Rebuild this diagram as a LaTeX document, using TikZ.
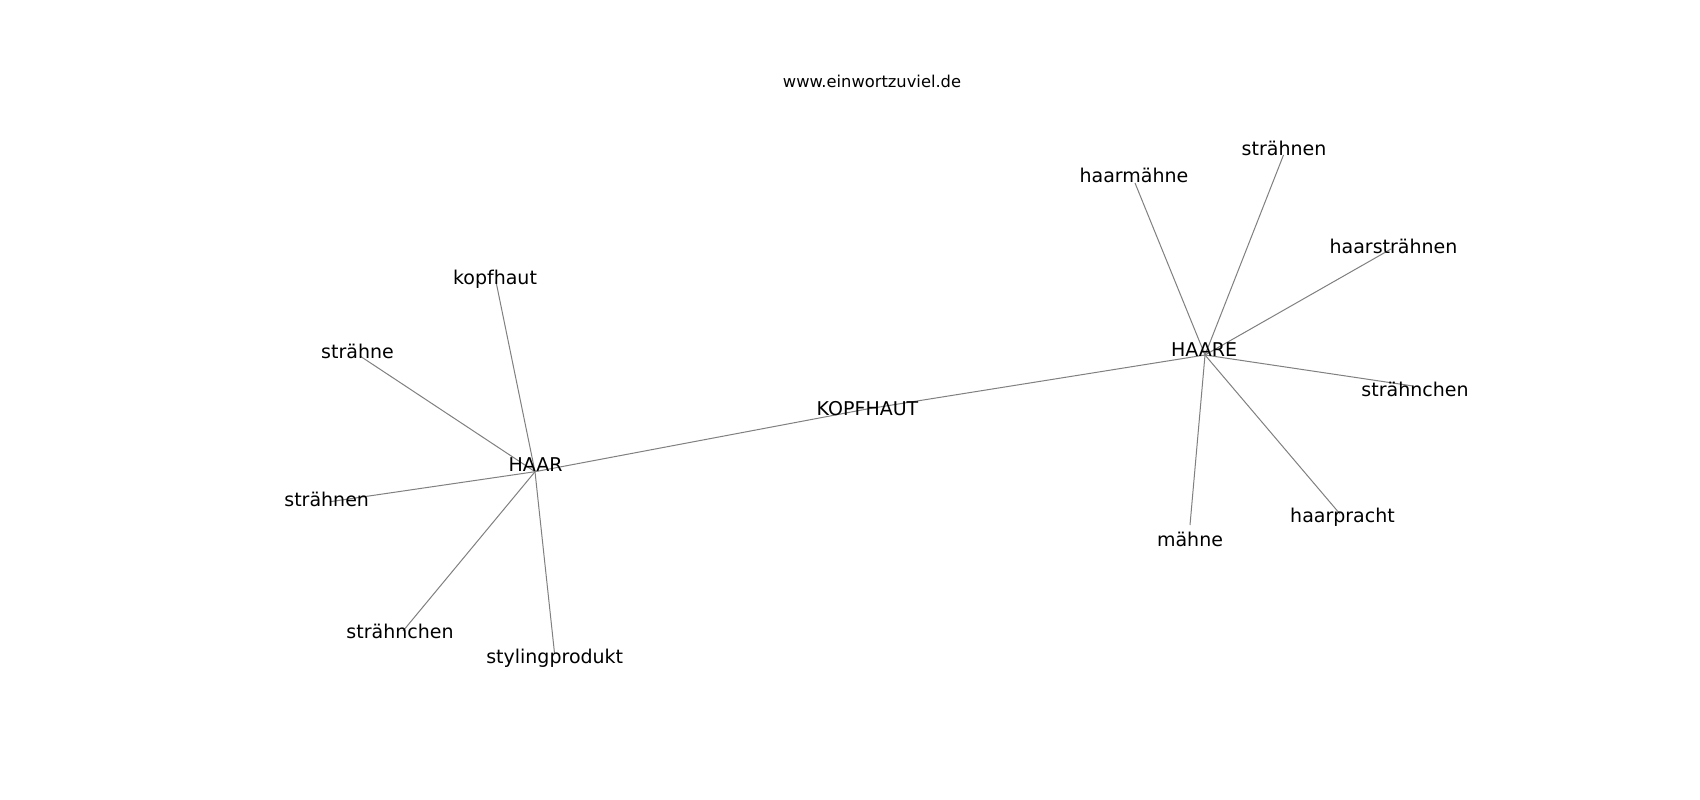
\documentclass[tikz,border=0pt]{standalone}
\usepackage{fontspec}
\setmainfont{DejaVu Sans}
\usetikzlibrary{backgrounds}
\tikzset{
  lbl/.style={anchor=base, inner sep=0pt, font=\fontsize{19}{23}\selectfont, text=black},
  ttl/.style={anchor=base, inner sep=0pt, font=\fontsize{16.3}{20}\selectfont, text=black},
  edge/.style={draw=gray, line width=1pt}
}
\begin{document}
\begin{tikzpicture}[x=1pt,y=-1pt]
\useasboundingbox (0,0) rectangle (1700,800);
% vertices
\coordinate (vhaar) at (535,471.7);
\coordinate (vkopf) at (867,409);
\coordinate (vhaare) at (1205,355);
\coordinate (vkopfhaut) at (496,281.7);
\coordinate (vstraehne) at (360,356);
\coordinate (vstraehnenL) at (330,501.7);
\coordinate (vstraehnchenL) at (403,631);
\coordinate (vstyling) at (554.5,653);
\coordinate (vhaarmaehne) at (1135,183);
\coordinate (vstraehnenR) at (1283.5,155);
\coordinate (vhaarstraehnen) at (1391,249);
\coordinate (vstraehnchenR) at (1413,386);
\coordinate (vhaarpracht) at (1340,514);
\coordinate (vmaehne) at (1190,525);
% labels
\node[ttl] (title) at (872,87.3) {www.einwortzuviel.de};
\node[lbl] (haar) at (535.7,471.7) {HAAR};
\node[lbl] (kopf) at (867.5,415) {KOPFHAUT};
\node[lbl] (haare) at (1204,356.7) {HAARE};
\node[lbl] (kopfhaut) at (495,284) {kopfhaut};
\node[lbl] (straehne) at (357.5,358) {strähne};
\node[lbl] (straehnenL) at (326.7,506.7) {strähnen};
\node[lbl] (straehnchenL) at (400,638) {strähnchen};
\node[lbl] (styling) at (554.7,663) {stylingprodukt};
\node[lbl] (haarmaehne) at (1134,182) {haarmähne};
\node[lbl] (straehnenR) at (1284,155) {strähnen};
\node[lbl] (haarstraehnen) at (1393.5,253) {haarsträhnen};
\node[lbl] (straehnchenR) at (1415,396) {strähnchen};
\node[lbl] (haarpracht) at (1342.5,522.7) {haarpracht};
\node[lbl] (maehne) at (1190,546) {mähne};
% edges
\begin{scope}[on background layer]
\fill[white] (0,0) rectangle (1700,800);
\draw[edge] (vhaar) -- (vkopf);
\draw[edge] (vkopf) -- (vhaare);
\draw[edge] (vhaar) -- (vkopfhaut);
\draw[edge] (vhaar) -- (vstraehne);
\draw[edge] (vhaar) -- (vstraehnenL);
\draw[edge] (vhaar) -- (vstraehnchenL);
\draw[edge] (vhaar) -- (vstyling);
\draw[edge] (vhaare) -- (vhaarmaehne);
\draw[edge] (vhaare) -- (vstraehnenR);
\draw[edge] (vhaare) -- (vhaarstraehnen);
\draw[edge] (vhaare) -- (vstraehnchenR);
\draw[edge] (vhaare) -- (vhaarpracht);
\draw[edge] (vhaare) -- (vmaehne);
\end{scope}
\end{tikzpicture}
\end{document}
